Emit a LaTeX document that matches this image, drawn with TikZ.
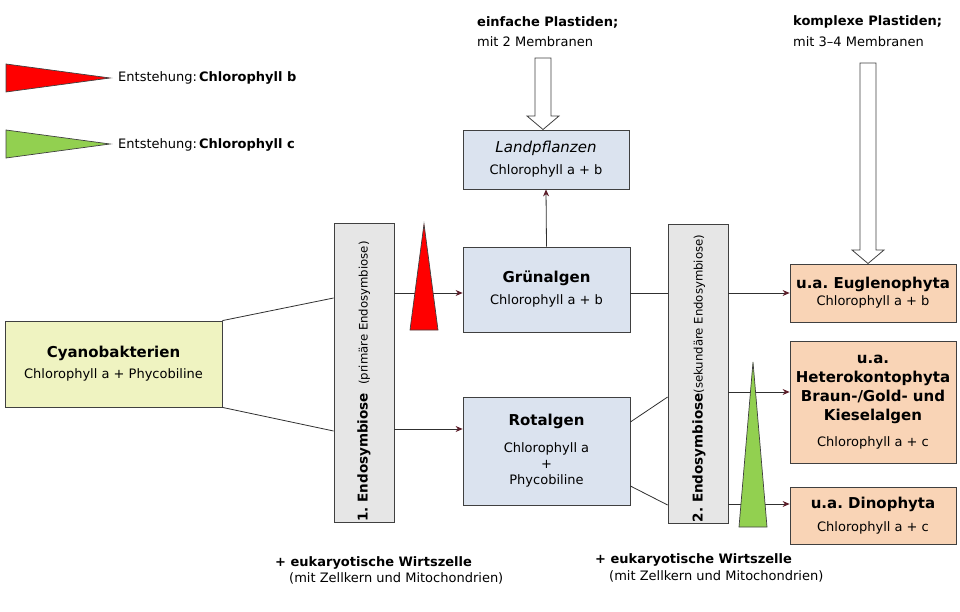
\documentclass[tikz,border=0pt]{standalone}
\usepackage{fontspec}
\setmainfont{DejaVu Sans}
\usetikzlibrary{arrows.meta}
\definecolor{boxblue}{HTML}{DBE3EF}
\definecolor{barfill}{HTML}{E6E6E6}
\definecolor{cyanfill}{HTML}{EFF3C1}
\definecolor{orangefill}{HTML}{F9D4B6}
\definecolor{edgecol}{HTML}{404040}
\definecolor{linecol}{HTML}{303030}
\definecolor{tipcol}{HTML}{5C1E2A}
\definecolor{trired}{HTML}{FF0000}
\definecolor{trigreen}{HTML}{92D050}
\newcommand{\ttlf}{\fontsize{15}{18}\selectfont\bfseries}
\frenchspacing
\begin{document}
\begin{tikzpicture}[x=1pt,y=-1pt,
  every node/.style={inner sep=0pt, font=\fontsize{13}{16}\selectfont},
  box/.style={draw=edgecol, line width=0.8pt, align=center},
  bar/.style={draw=edgecol, line width=0.8pt, fill=barfill, minimum width=60pt, minimum height=299pt},
  plainline/.style={draw=linecol, line width=0.8pt},
  conn/.style={draw=linecol, line width=0.8pt, -{Stealth[length=7pt,width=6pt,color=tipcol]}},
  tri/.style={draw=edgecol, line width=0.7pt},
  hollow/.style={draw=edgecol, line width=0.8pt, fill=white}
]
\useasboundingbox (0,0) rectangle (960,612);

% legend
\draw[tri, fill=trired] (6,64) -- (6,92) -- (110,78) -- cycle;
\node[anchor=west] (leg1) at (118,78) {Entstehung:\,\textbf{Chlorophyll b}};
\draw[tri, fill=trigreen] (6,130) -- (6,158) -- (110,144) -- cycle;
\node[anchor=west] (leg2) at (118,145) {Entstehung:\,\textbf{Chlorophyll c}};

% top texts
\node[anchor=west] (einf) at (477,22) {\textbf{einfache Plastiden;}};
\node[anchor=west] (einf2) at (477,42) {mit 2 Membranen};
\node[anchor=west] (kompl) at (793,22) {\textbf{komplexe Plastiden;}};
\node[anchor=west] (kompl2) at (793,42) {mit 3–4 Membranen};

% boxes
\node[box, fill=cyanfill, minimum width=217pt, minimum height=86pt, font=\fontsize{13}{21}\selectfont] (cyan) at (113.5,364) {{\ttlf Cyanobakterien}\\Chlorophyll a + Phycobiline};

\node[bar] (bar1) at (364,372.5) {};
\node[rotate=90] (lab1) at (364,381.5) {{\fontsize{13.5}{16}\selectfont\bfseries 1. Endosymbiose}\hspace{8pt}{\fontsize{11.7}{14}\selectfont(primäre Endosymbiose)}};

\node[box, fill=boxblue, minimum width=166pt, minimum height=59pt, font=\fontsize{13}{22}\selectfont] (land) at (546,159.5) {{\fontsize{15}{18}\selectfont\itshape Landpflanzen}\\Chlorophyll a + b};
\node[box, fill=boxblue, minimum width=167pt, minimum height=85pt, font=\fontsize{13}{22}\selectfont] (grun) at (546.5,289.5) {{\ttlf Grünalgen}\\Chlorophyll a + b};
\node[box, fill=boxblue, minimum width=167pt, minimum height=108pt, font=\fontsize{13}{16}\selectfont] (rot) at (546.5,451) {{\ttlf Rotalgen}\\[11pt]Chlorophyll a\\+\\Phycobiline};

\node[bar] (bar2) at (698,374) {};
\node[rotate=90] (lab2) at (699,378.5) {{\fontsize{13.5}{16}\selectfont\bfseries 2. Endosymbiose}{\fontsize{11.7}{14}\selectfont(sekundäre Endosymbiose)}};

\node[box, fill=orangefill, minimum width=166pt, minimum height=58pt, font=\fontsize{13}{17}\selectfont] (eug) at (873,293) {{\ttlf u.a. Euglenophyta}\\Chlorophyll a + b};
\node[box, fill=orangefill, minimum width=166pt, minimum height=122pt, font=\fontsize{13}{19}\selectfont] (het) at (873,402) {{\ttlf u.a.}\\{\ttlf Heterokontophyta}\\{\ttlf Braun-/Gold- und}\\{\ttlf Kieselalgen}\\[7pt]Chlorophyll a + c};
\node[box, fill=orangefill, minimum width=166pt, minimum height=57pt, font=\fontsize{13}{23}\selectfont] (dino) at (873,515.5) {{\ttlf u.a. Dinophyta}\\Chlorophyll a + c};

% bottom texts
\node[anchor=west] (wirt1) at (275,563) {\textbf{+ eukaryotische Wirtszelle}};
\node[anchor=west] (wirt1b) at (289,578) {(mit Zellkern und Mitochondrien)};
\node[anchor=west] (wirt2) at (595,560) {\textbf{+ eukaryotische Wirtszelle}};
\node[anchor=west] (wirt2b) at (609,576) {(mit Zellkern und Mitochondrien)};

% connectors
\draw[plainline] (cyan.north east) -- ([yshift=74.5pt]bar1.west);
\draw[plainline] (cyan.south east) -- ([yshift=-58.5pt]bar1.west);
\draw[conn] ([yshift=79.5pt]bar1.east) -- ([yshift=-3.5pt]grun.west);
\draw[conn] ([yshift=-56.5pt]bar1.east) -- ([yshift=22pt]rot.west);
\draw[conn] (grun.north) -- (land.south);
\draw[plainline] ([yshift=-3.5pt]grun.east) -- ([yshift=81pt]bar2.west);
\draw[plainline] ([yshift=29pt]rot.east) -- ([yshift=-23pt]bar2.west);
\draw[plainline] ([yshift=-35pt]rot.east) -- ([yshift=-131pt]bar2.west);
\draw[conn] ([yshift=81pt]bar2.east) -- (eug.west);
\draw[conn] ([yshift=-18pt]bar2.east) -- ([yshift=10pt]het.west);
\draw[conn] ([yshift=-130pt]bar2.east) -- ([yshift=11.5pt]dino.west);

% vertical triangles
\draw[tri, fill=trired] (424,224) -- (438,330) -- (410,330) -- cycle;
\draw[tri, fill=trigreen] (753,362) -- (767,527) -- (739,527) -- cycle;

% hollow arrows
\draw[hollow] (535,58) -- (551,58) -- (551,116) -- (559,116) -- (543,129.5) -- (527,116) -- (535,116) -- cycle;
\draw[hollow] (860,63) -- (876,63) -- (876,250) -- (884,250) -- (868,263.5) -- (852,250) -- (860,250) -- cycle;
\end{tikzpicture}
\end{document}
